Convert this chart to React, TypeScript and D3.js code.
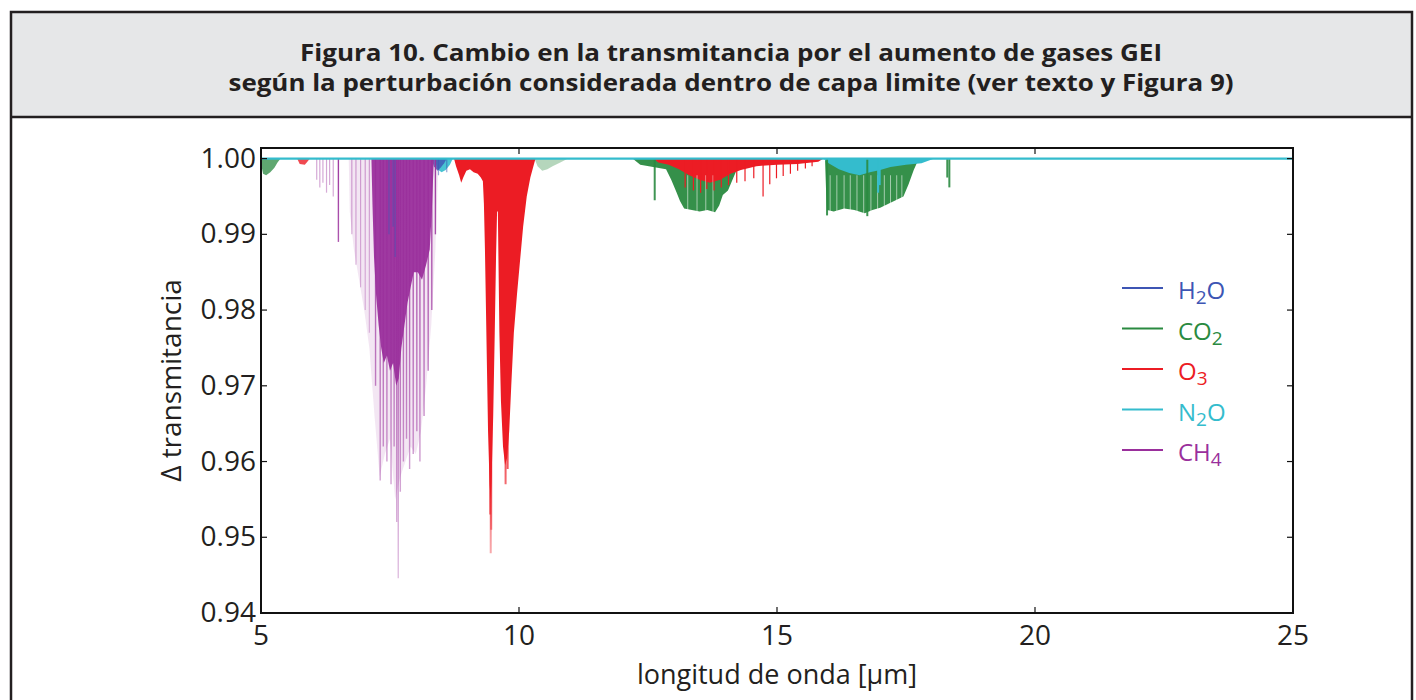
import React from 'react';
import * as d3 from 'd3';

// ---------- text ----------
const TITLE_LINES = [
  'Figura 10. Cambio en la transmitancia por el aumento de gases GEI',
  'según la perturbación considerada dentro de capa limite (ver texto y Figura 9)',
];
const X_LABEL = 'longitud de onda [μm]';
const Y_LABEL = 'Δ transmitancia';
const X_TICKS = [5, 10, 15, 20, 25];
const Y_TICKS = [0.94, 0.95, 0.96, 0.97, 0.98, 0.99, 1.0];
const X_DOMAIN = [5, 25];
const Y_DOMAIN = [0.94, 1.0014];

// legend: [main, subscript, tail]
const LEGEND_LABELS = [
  ['H', '2', 'O'],
  ['CO', '2', ''],
  ['O', '3', ''],
  ['N', '2', 'O'],
  ['CH', '4', ''],
];
const GAS_COLORS = ['#3d55b4', '#2a8a40', '#ec1c24', '#34bccd', '#9a2f9c'];

// ---------- data: [wavelength µm, transmittance] ----------
const H2O_BAND_8 = [[8.30, 1.0], [8.35, 0.999], [8.42, 0.9984], [8.48, 0.9988], [8.55, 0.9994], [8.60, 1.0]];
const H2O_LINES = [[7.48, 0.990], [7.56, 0.991], [7.60, 0.987], [8.44, 0.9978], [8.60, 0.9982]];

const CO2_BAND_5 = [[5.0, 1.0], [5.01, 0.999], [5.04, 0.998], [5.10, 0.9978], [5.18, 0.9982], [5.26, 0.9988], [5.32, 0.9995], [5.38, 1.0]];
const CO2_BAND_10 = [[10.30, 1.0], [10.36, 0.999], [10.45, 0.9984], [10.55, 0.9986], [10.65, 0.999], [10.80, 0.9995], [10.95, 1.0]];
const CO2_BAND_13 = [
  [12.20, 1.0], [12.35, 0.9992], [12.60, 0.9989], [12.85, 0.9986], [12.95, 0.9972], [13.05, 0.9956],
  [13.12, 0.9944], [13.20, 0.9934], [13.35, 0.9932], [13.50, 0.993], [13.65, 0.9932], [13.80, 0.9929],
  [13.88, 0.9938], [13.95, 0.9952], [14.05, 0.9958], [14.15, 0.9974], [14.25, 0.999], [14.40, 1.0],
];
const CO2_BAND_16 = [
  [15.93, 1.0], [15.95, 0.996], [15.97, 0.9932], [16.10, 0.993], [16.30, 0.9934], [16.50, 0.9932],
  [16.70, 0.9928], [16.85, 0.9932], [17.00, 0.9935], [17.15, 0.994], [17.30, 0.9945], [17.45, 0.995],
  [17.55, 0.9966], [17.65, 0.9985], [17.75, 1.0],
];
const CO2_LINES = [[12.63, 0.9945], [15.97, 0.9925], [16.75, 0.9924], [18.34, 0.9962], [18.30, 0.9975]];
const CO2_GAPS = [13.27, 13.45, 13.62, 13.76, 16.03, 16.16, 16.30, 16.42, 16.55, 16.68, 16.82, 16.95, 17.08, 17.20, 17.32, 17.42];

const O3_BAND_6 = [[5.70, 1.0], [5.75, 0.9993], [5.85, 0.9992], [5.95, 1.0]];
const O3_BAND_9 = [
  [8.74, 1.0], [8.78, 0.999], [8.84, 0.9978], [8.88, 0.9968], [8.92, 0.9975], [8.98, 0.9984], [9.05, 0.9986],
  [9.12, 0.9982], [9.20, 0.998], [9.26, 0.9975], [9.30, 0.997], [9.32, 0.994], [9.34, 0.988], [9.36, 0.98],
  [9.38, 0.972], [9.40, 0.964], [9.43, 0.957], [9.45, 0.955], [9.47, 0.958], [9.50, 0.966], [9.53, 0.977],
  [9.555, 0.987], [9.575, 0.993], [9.59, 0.993], [9.605, 0.985], [9.62, 0.977], [9.65, 0.968], [9.69, 0.962],
  [9.73, 0.9595], [9.77, 0.9605], [9.81, 0.964], [9.85, 0.970], [9.90, 0.977], [9.96, 0.982], [10.02, 0.9865],
  [10.08, 0.991], [10.15, 0.995], [10.22, 0.9975], [10.32, 1.0],
];
const O3_TIPS = [[9.452, 0.9479], [9.462, 0.951], [9.44, 0.953], [9.74, 0.957], [9.78, 0.959]];
const O3_BAND_14 = [
  [12.60, 1.0], [12.70, 0.9995], [12.90, 0.9992], [13.10, 0.9986], [13.30, 0.9978], [13.50, 0.9972],
  [13.70, 0.9968], [13.90, 0.9972], [14.10, 0.998], [14.30, 0.9985], [14.60, 0.999], [15.00, 0.9992],
  [15.40, 0.9993], [15.80, 0.9996], [15.90, 1.0],
];
const O3_LINES_14 = [
  [13.22, 0.9962], [13.38, 0.9958], [13.52, 0.9955], [13.64, 0.996], [13.78, 0.9958], [13.92, 0.9962],
  [14.06, 0.9965], [14.22, 0.9968], [14.38, 0.997], [14.55, 0.9974], [14.73, 0.995], [14.86, 0.9966],
  [14.99, 0.9974], [15.12, 0.9977], [15.26, 0.998], [15.40, 0.9984], [15.55, 0.9987], [15.68, 0.999],
];

const N2O_BAND_8 = [[8.36, 1.0], [8.42, 0.9986], [8.50, 0.9982], [8.58, 0.9985], [8.66, 0.9992], [8.72, 1.0]];
const N2O_BAND_17 = [
  [15.90, 1.0], [16.00, 0.9994], [16.20, 0.9986], [16.40, 0.9981], [16.60, 0.9978], [16.80, 0.9982],
  [17.00, 0.9985], [17.20, 0.9989], [17.50, 0.9992], [17.80, 0.9994], [18.05, 1.0],
];
const N2O_LINES = [[16.96, 0.9955], [16.99, 0.9965]];

const CH4_HAZE = [
  [6.70, 1.0], [6.72, 0.993], [6.80, 0.988], [6.90, 0.984], [7.00, 0.98], [7.10, 0.975], [7.20, 0.966],
  [7.30, 0.958], [7.40, 0.961], [7.50, 0.963], [7.60, 0.955], [7.70, 0.958], [7.80, 0.96], [7.90, 0.962],
  [8.00, 0.961], [8.10, 0.964], [8.20, 0.97], [8.30, 0.978], [8.38, 0.988], [8.44, 1.0],
];
const CH4_CORE = [
  [7.14, 1.0], [7.16, 0.994], [7.19, 0.987], [7.23, 0.982], [7.28, 0.978], [7.33, 0.975], [7.38, 0.973],
  [7.44, 0.974], [7.50, 0.972], [7.56, 0.973], [7.62, 0.970], [7.67, 0.971], [7.72, 0.975], [7.78, 0.978],
  [7.84, 0.981], [7.90, 0.983], [7.96, 0.985], [8.04, 0.985], [8.12, 0.984], [8.20, 0.986], [8.27, 0.988],
  [8.31, 0.993], [8.35, 1.0],
];
const CH4_LINES_WEAK = [
  [6.08, 0.9972], [6.14, 0.9962], [6.20, 0.9968], [6.27, 0.9955], [6.33, 0.9965], [6.40, 0.995],
  [6.76, 0.990], [6.84, 0.986], [6.93, 0.983], [7.02, 0.980], [7.10, 0.977],
];
const CH4_LINES = [
  [6.50, 0.989], [7.22, 0.970], [7.31, 0.9575], [7.37, 0.962], [7.44, 0.960], [7.52, 0.957], [7.58, 0.962],
  [7.63, 0.952], [7.66, 0.9446], [7.70, 0.956], [7.76, 0.960], [7.82, 0.963], [7.88, 0.959], [7.95, 0.961],
  [8.02, 0.964], [8.08, 0.960], [8.16, 0.966], [8.24, 0.972], [8.31, 0.980], [8.38, 0.990],
];

// ---------- layout ----------
const W = 1416;
const H = 700;
const PLOT = { left: 261, right: 1293, top: 148, bottom: 613 };
const FONT = "'Open Sans', 'DejaVu Sans', sans-serif";
const INK = '#231f20';

export default function App() {
  const x = d3.scaleLinear().domain(X_DOMAIN).range([PLOT.left, PLOT.right]);
  const y = d3.scaleLinear().domain(Y_DOMAIN).range([PLOT.bottom, PLOT.top]);
  const area = d3
    .area<number[]>()
    .x((d) => x(d[0]))
    .y0(y(1))
    .y1((d) => y(d[1]));
  const spike = (d: number[]) => `M${x(d[0])},${y(1)}V${y(d[1])}`;
  const [cH2O, cCO2, cO3, cN2O, cCH4] = GAS_COLORS;

  const areas: { data: number[][]; color: string; op: number }[] = [
    { data: CO2_BAND_5, color: cCO2, op: 0.75 },
    { data: CO2_BAND_10, color: cCO2, op: 0.35 },
    { data: CO2_BAND_13, color: cCO2, op: 0.95 },
    { data: CO2_BAND_16, color: cCO2, op: 0.95 },
    { data: O3_BAND_6, color: cO3, op: 0.8 },
    { data: O3_BAND_9, color: cO3, op: 1 },
    { data: O3_BAND_14, color: cO3, op: 1 },
    { data: N2O_BAND_8, color: cN2O, op: 0.9 },
    { data: N2O_BAND_17, color: cN2O, op: 1 },
    { data: H2O_BAND_8, color: cH2O, op: 0.8 },
    { data: CH4_HAZE, color: cCH4, op: 0.12 },
    { data: CH4_CORE, color: cCH4, op: 0.95 },
  ];
  const spikes: { data: number[][]; stroke: string; op: number; w: number }[] = [
    { data: CO2_LINES, stroke: cCO2, op: 0.9, w: 2 },
    { data: O3_LINES_14, stroke: cO3, op: 1, w: 1.2 },
    { data: O3_TIPS, stroke: 'url(#fadeO3)', op: 1, w: 2 },
    { data: N2O_LINES, stroke: cN2O, op: 1, w: 2 },
    { data: CH4_LINES_WEAK, stroke: 'url(#fadeCH4)', op: 0.45, w: 1.2 },
    { data: CH4_LINES, stroke: 'url(#fadeCH4)', op: 1, w: 1.4 },
    { data: H2O_LINES, stroke: cH2O, op: 0.55, w: 1.2 },
  ];

  return (
    <svg
      width={W}
      height={H}
      style={{ position: 'absolute', left: 0, top: 0, background: '#fff' }}
      fontFamily={FONT}
    >
      <defs>
        <clipPath id="plotclip">
          <rect x={PLOT.left} y={PLOT.top} width={PLOT.right - PLOT.left} height={PLOT.bottom - PLOT.top} />
        </clipPath>
        <linearGradient id="fadeCH4" gradientUnits="userSpaceOnUse" x1={0} x2={0} y1={y(1)} y2={y(0.944)}>
          <stop offset="0" stopColor={cCH4} stopOpacity={0.95} />
          <stop offset="0.35" stopColor={cCH4} stopOpacity={0.7} />
          <stop offset="1" stopColor={cCH4} stopOpacity={0.3} />
        </linearGradient>
        <linearGradient id="fadeO3" gradientUnits="userSpaceOnUse" x1={0} x2={0} y1={y(0.965)} y2={y(0.947)}>
          <stop offset="0" stopColor={cO3} stopOpacity={0.9} />
          <stop offset="1" stopColor={cO3} stopOpacity={0.35} />
        </linearGradient>
      </defs>

      {/* page frame and header */}
      <rect x={11} y={12} width={1401} height={105} fill="#e6e7e8" />
      <rect x={11} y={12} width={1401} height={760} fill="none" stroke={INK} strokeWidth={2.5} />
      <line x1={11} x2={1412} y1={117} y2={117} stroke={INK} strokeWidth={2.5} />
      {TITLE_LINES.map((t, i) => (
        <text
          key={i}
          x={731}
          y={61 + i * 30}
          textAnchor="middle"
          fontWeight={700}
          fontSize={24}
          fill={INK}
          textLength={i === 0 ? 862 : 1005}
          lengthAdjust="spacingAndGlyphs"
        >
          {t}
        </text>
      ))}

      {/* data */}
      <g clipPath="url(#plotclip)">
        {areas.map((a, i) => (
          <path key={'a' + i} d={area(a.data) || ''} fill={a.color} fillOpacity={a.op} />
        ))}
        {CO2_GAPS.map((g, i) => (
          <line
            key={'g' + i}
            x1={x(g)}
            x2={x(g)}
            y1={y(0.9978)}
            y2={y(0.9915)}
            stroke="#fff"
            strokeOpacity={0.55}
            strokeWidth={1}
          />
        ))}
        {spikes.map((s, i) =>
          s.data.map((d, j) => (
            <path key={'s' + i + '-' + j} d={spike(d)} stroke={s.stroke} strokeOpacity={s.op} strokeWidth={s.w} fill="none" />
          ))
        )}
        <line x1={x(X_DOMAIN[0])} x2={x(X_DOMAIN[1])} y1={y(1)} y2={y(1)} stroke={cN2O} strokeWidth={2.2} />
      </g>

      {/* axes frame */}
      <rect
        x={PLOT.left}
        y={PLOT.top}
        width={PLOT.right - PLOT.left}
        height={PLOT.bottom - PLOT.top}
        fill="none"
        stroke="#111"
        strokeWidth={2}
      />
      {X_TICKS.map((t) => (
        <g key={'xt' + t}>
          <line x1={x(t)} x2={x(t)} y1={PLOT.bottom} y2={PLOT.bottom - 6} stroke="#111" strokeWidth={1.2} />
          <line x1={x(t)} x2={x(t)} y1={PLOT.top} y2={PLOT.top + 6} stroke="#111" strokeWidth={1.2} />
          <text x={x(t)} y={645} textAnchor="middle" fontSize={28} fill={INK}>
            {t}
          </text>
        </g>
      ))}
      {Y_TICKS.map((t) => (
        <g key={'yt' + t}>
          <line x1={PLOT.left} x2={PLOT.left + 6} y1={y(t)} y2={y(t)} stroke="#111" strokeWidth={1.2} />
          <line x1={PLOT.right} x2={PLOT.right - 6} y1={y(t)} y2={y(t)} stroke="#111" strokeWidth={1.2} />
          <text x={256} y={y(t) + 9} textAnchor="end" fontSize={28} fill={INK}>
            {t.toFixed(2)}
          </text>
        </g>
      ))}
      <text x={(PLOT.left + PLOT.right) / 2} y={684} textAnchor="middle" fontSize={27} fill={INK}>
        {X_LABEL}
      </text>
      <text
        transform={`translate(181, ${(PLOT.top + PLOT.bottom) / 2}) rotate(-90)`}
        textAnchor="middle"
        fontSize={28}
        fill={INK}
      >
        {Y_LABEL}
      </text>

      {/* legend */}
      {LEGEND_LABELS.map((lab, i) => {
        const ly = 288 + i * 40.5;
        const c = GAS_COLORS[i];
        return (
          <g key={'lg' + i}>
            <line x1={1122} x2={1163} y1={ly} y2={ly} stroke={c} strokeWidth={2} />
            <text x={1178} y={ly + 11} fontSize={24} fill={c}>
              {lab[0]}
              <tspan fontSize={19} dy={5}>
                {lab[1]}
              </tspan>
              {lab[2] ? <tspan dy={-5}>{lab[2]}</tspan> : null}
            </text>
          </g>
        );
      })}
    </svg>
  );
}
